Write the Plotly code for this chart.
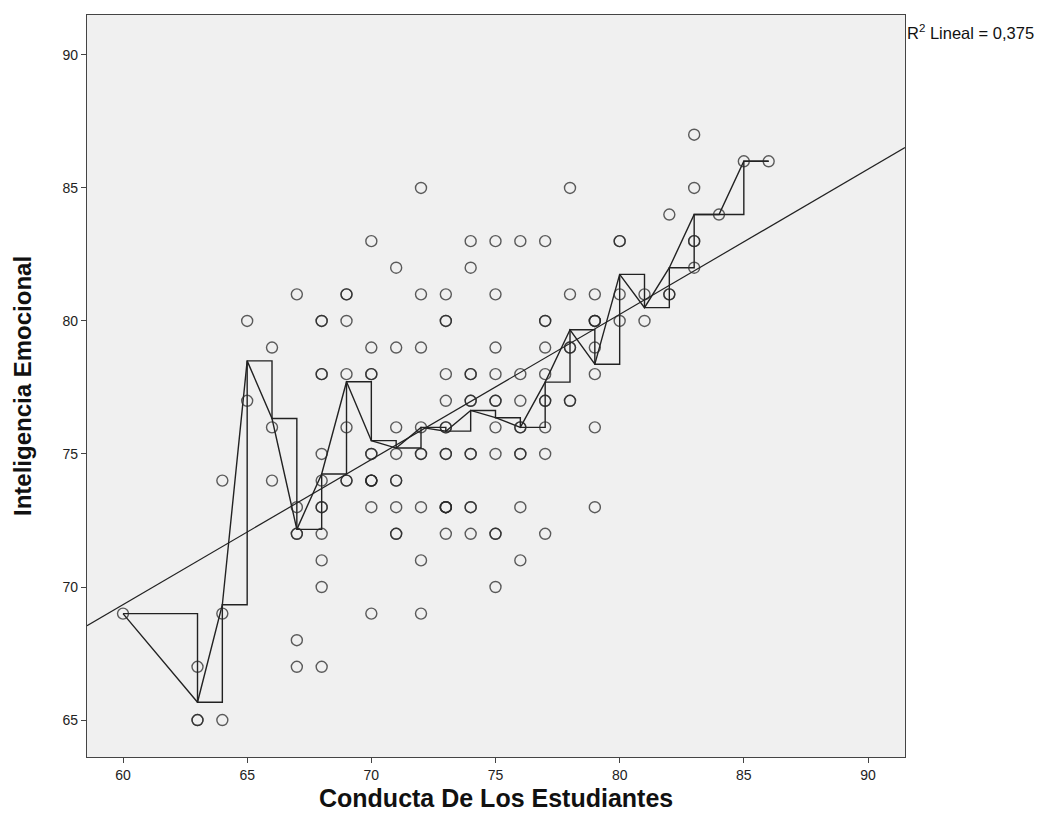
import numpy as np
import plotly.graph_objects as go

# Observed values (Conducta -> list of Inteligencia values, with repeats for overlapping points)
groups = {
    60: [69],
    63: [67, 65, 65],
    64: [74, 69, 65],
    65: [80, 77],
    66: [79, 76, 74],
    67: [81, 73, 72, 72, 68, 67],
    68: [80, 80, 78, 78, 75, 74, 73, 73, 72, 71, 70, 67],
    69: [81, 81, 80, 78, 76, 74, 74],
    70: [83, 79, 78, 78, 75, 75, 74, 74, 74, 74, 73, 69],
    71: [82, 79, 76, 75, 74, 74, 73, 72, 72],
    72: [85, 81, 79, 76, 75, 75, 73, 71, 69],
    73: [81, 80, 80, 78, 77, 76, 76, 75, 75, 73, 73, 73, 73, 72],
    74: [83, 82, 78, 78, 77, 77, 75, 75, 73, 73, 72],
    75: [83, 81, 79, 78, 77, 77, 76, 75, 72, 72, 70],
    76: [83, 78, 77, 76, 76, 75, 75, 73, 71],
    77: [83, 80, 80, 79, 78, 77, 77, 76, 75, 72],
    78: [85, 81, 79, 79, 77, 77],
    79: [81, 80, 80, 80, 79, 78, 76, 73],
    80: [83, 83, 81, 80],
    81: [81, 80],
    82: [84, 81, 81],
    83: [87, 85, 83, 83, 82],
    84: [84],
    85: [86],
    86: [86],
}
conducta = [x for x, ys in groups.items() for _ in ys]
inteligencia = [y for ys in groups.values() for y in ys]

x_ticks = [60, 65, 70, 75, 80, 85, 90]
y_ticks = [65, 70, 75, 80, 85, 90]
x_range = [58.55, 91.49]
y_range = [63.61, 91.50]
r2_label = "R<sup>2</sup> Lineal = 0,375"

xs = np.array(conducta, dtype=float)
ys = np.array(inteligencia, dtype=float)
slope, intercept = np.polyfit(xs, ys, 1)

ux = np.array(sorted(groups.keys()), dtype=float)
means = np.array([np.mean(groups[int(k)]) for k in ux])

fig = go.Figure()
fig.add_trace(go.Scatter(
    x=x_range, y=[slope * x_range[0] + intercept, slope * x_range[1] + intercept],
    mode="lines", line=dict(color="#222222", width=1.2), hoverinfo="skip", showlegend=False))
fig.add_trace(go.Scatter(
    x=ux, y=means, mode="lines", line=dict(color="#222222", width=1.4, shape="hv"),
    showlegend=False))
fig.add_trace(go.Scatter(
    x=ux, y=means, mode="lines", line=dict(color="#222222", width=1.4, shape="linear"),
    showlegend=False))
fig.add_trace(go.Scatter(
    x=conducta, y=inteligencia, mode="markers",
    marker=dict(symbol="circle-open", size=11, color="rgba(40,40,40,0.75)",
                line=dict(width=1.4, color="rgba(40,40,40,0.75)")),
    showlegend=False))

font_family = "Liberation Sans, Arial, sans-serif"
fig.update_layout(
    width=1031, height=817,
    margin=dict(l=79, r=134, t=7, b=68),
    paper_bgcolor="white", plot_bgcolor="#f0f0f0",
    font=dict(family=font_family, size=14, color="#222222"),
    xaxis=dict(range=x_range, tickvals=x_ticks, ticks="outside", ticklen=5,
               tickcolor="#444", showgrid=False, zeroline=False, showline=True,
               linecolor="#444", linewidth=1.2, mirror=True,
               tickfont=dict(size=14, family=font_family, color="#222")),
    yaxis=dict(range=y_range, tickvals=y_ticks, ticks="outside", ticklen=5,
               tickcolor="#444", showgrid=False, zeroline=False, showline=True,
               linecolor="#444", linewidth=1.2, mirror=True,
               tickfont=dict(size=14, family=font_family, color="#222")),
    annotations=[
        dict(text=r2_label,
             xref="paper", yref="paper", x=1.0, y=0.977, xanchor="left", yanchor="middle",
             showarrow=False, font=dict(size=16.5, family=font_family, color="#111")),
        dict(text="<b>Conducta De Los Estudiantes</b>", xref="paper", yref="paper",
             x=0.5, y=-0.0553, xanchor="center", yanchor="middle", showarrow=False,
             font=dict(size=25, family=font_family, color="#111")),
        dict(text="<b>Inteligencia Emocional</b>", xref="paper", yref="paper",
             x=-0.0795, y=0.5, xanchor="center", yanchor="middle", textangle=-90,
             showarrow=False, font=dict(size=24, family=font_family, color="#111")),
    ],
)
fig.write_html("out.html")
